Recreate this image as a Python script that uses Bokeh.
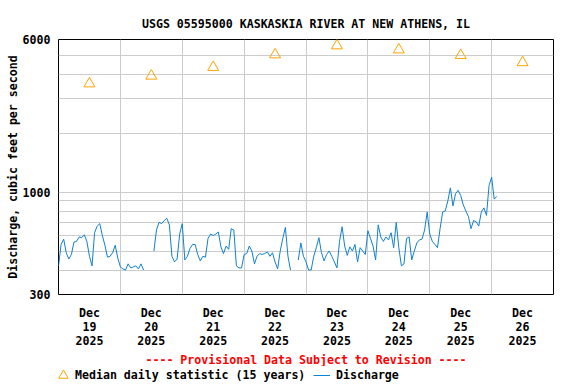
import numpy as np
import pandas as pd
from bokeh.plotting import figure
from bokeh.layouts import column
from bokeh.models import Range1d, FixedTicker, Legend, LegendItem, Title
from bokeh.embed import file_html
from bokeh.resources import INLINE

title_text = "USGS 05595000 KASKASKIA RIVER AT NEW ATHENS, IL"
y_axis_title = "Discharge, cubic feet per second"
provisional_text = "---- Provisional Data Subject to Revision ----"
median_label = "Median daily statistic (15 years)"
discharge_label = "Discharge"

series_start = "2025-12-19 00:00"
nan = float("nan")
# hourly discharge, cfs
discharge_cfs = [
    420, 540, 575, 490, 455, 480, 555, 560, 590, 585, 605, 560,
    470, 420, 620, 670, 690, 600, 535, 465, 470, 490, 535, 460,
    415, 405, 400, 430, 410, 415, 420, 405, 430, 400, nan, nan,
    nan, 500, 640, 700, 690, 715, 735, 680, 470, 440, 455, 610,
    690, 450, 470, 515, 540, 540, 480, 445, 470, 465, 580, 610,
    600, 610, 625, 525, 485, 530, 510, 650, 640, 420, 410, 410,
    480, 485, 530, 500, 430, 470, 485, 480, 485, 495, 470, 490,
    440, 405, 500, 580, 660, 470, 400, nan, nan, 450, 550, 470,
    440, 400, 400, 470, 520, 585, 490, 445, 480, 500, 470, 440,
    410, 560, 665, 530, 475, 525, 500, 540, 440, 520, 500, 480,
    635, 580, 530, 450, 680, 590, 560, 590, 570, 620, 520, 700,
    520, 420, 430, 580, 590, 450, 500, 550, 570, 575, 640, 790,
    610, 560, 540, 520, 650, 790, 800, 900, 1050, 850, 980, 1020,
    960, 860, 800, 750, 650, 715, 705, 670, 790, 830, 760, 1080,
    1190, 920, 950,
]

median_dates = ["2025-12-19", "2025-12-20", "2025-12-21", "2025-12-22",
                "2025-12-23", "2025-12-24", "2025-12-25", "2025-12-26"]
median_cfs = [3570, 3910, 4330, 5020, 5580, 5320, 4980, 4580]

day_labels = ["Dec\n19\n2025", "Dec\n20\n2025", "Dec\n21\n2025", "Dec\n22\n2025",
              "Dec\n23\n2025", "Dec\n24\n2025", "Dec\n25\n2025", "Dec\n26\n2025"]
y_tick_values = [300, 1000, 6000]
y_tick_labels = ["300", "1000", "6000"]
y_grid_values = [400, 500, 600, 700, 800, 900, 1000, 2000, 3000, 4000, 5000]

FONT = "DejaVu Sans Mono"
FS = "11.6px"
LINE_COLOR = "#1080d0"
TRI_COLOR = "#ffa500"

times = pd.date_range(series_start, periods=len(discharge_cfs), freq="h")
median_times = pd.to_datetime(median_dates) + pd.Timedelta(hours=12)

def ms(t):
    return int(pd.Timestamp(t).value // 10**6)

x_start = pd.Timestamp(median_dates[0])
x_end = pd.Timestamp(median_dates[-1]) + pd.Timedelta(days=1)

p = figure(width=576, height=366, x_axis_type="datetime", y_axis_type="log",
           x_range=Range1d(x_start, x_end), y_range=Range1d(300, 6000),
           output_backend="svg", toolbar_location=None,
           min_border_left=58, min_border_right=23, min_border_top=39, min_border_bottom=66)

p.title.text = title_text
p.title.align = "center"
p.title.text_color = "black"
p.title.text_font = FONT
p.title.text_font_style = "bold"
p.title.text_font_size = FS
p.title.standoff = 18

p.outline_line_color = "black"
p.outline_line_width = 1
p.background_fill_color = "white"
p.border_fill_color = "white"

# x axis: labels at noon, grid at midnight
noon_ticks = [ms(t) for t in median_times]
p.xaxis.ticker = FixedTicker(ticks=noon_ticks)
p.xaxis.major_label_overrides = {k: lab for k, lab in zip(noon_ticks, day_labels)}
p.xaxis.major_tick_line_color = None
p.xaxis.minor_tick_line_color = None
p.xaxis.major_tick_out = 0
p.xaxis.major_tick_in = 0
p.xaxis.axis_line_color = None
p.xaxis.major_label_standoff = 11
p.xaxis.major_label_text_font = FONT
p.xaxis.major_label_text_font_style = "bold"
p.xaxis.major_label_text_font_size = FS
p.xaxis.major_label_text_color = "black"
p.xaxis.major_label_text_line_height = 1.0
p.xgrid.ticker = FixedTicker(ticks=[ms(pd.Timestamp(d)) for d in median_dates[1:]])
p.xgrid.grid_line_color = "#cccccc"

p.yaxis.ticker = FixedTicker(ticks=y_tick_values)
p.yaxis.major_label_overrides = {v: s for v, s in zip(y_tick_values, y_tick_labels)}
p.yaxis.major_tick_line_color = None
p.yaxis.minor_tick_line_color = None
p.yaxis.major_tick_out = 0
p.yaxis.major_tick_in = 0
p.yaxis.axis_line_color = None
p.yaxis.major_label_standoff = 8
p.yaxis.major_label_text_font = FONT
p.yaxis.major_label_text_font_style = "bold"
p.yaxis.major_label_text_font_size = FS
p.yaxis.major_label_text_color = "black"
p.yaxis.axis_label = y_axis_title
p.yaxis.axis_label_text_color = "black"
p.yaxis.axis_label_text_font = FONT
p.yaxis.axis_label_text_font_style = "bold"
p.yaxis.axis_label_text_font_size = FS
p.yaxis.axis_label_standoff = 0
p.ygrid.ticker = FixedTicker(ticks=y_grid_values)
p.ygrid.grid_line_color = "#cccccc"

p.line(times, discharge_cfs, line_color=LINE_COLOR, line_width=1)
p.scatter(median_times, median_cfs, marker="triangle", size=11,
          fill_color=None, line_color=TRI_COLOR, line_width=1)

p.add_layout(Title(text=provisional_text, align="center", text_color="red",
                   text_font=FONT, text_font_style="bold", text_font_size=FS,
                   standoff=0, offset=0), "below")

# legend strip below the chart (its renderers hold the same series, kept off-view)
lg = figure(width=576, height=18, output_backend="svg", toolbar_location=None,
            x_axis_location=None, y_axis_location=None,
            min_border_left=58, min_border_right=23, min_border_top=0, min_border_bottom=0,
            x_range=Range1d(x_start, x_end), y_range=Range1d(0, 1))
lg.outline_line_color = None
lg.grid.visible = False
lg_tri = lg.scatter(median_times, median_cfs, marker="triangle", size=11,
                    fill_color=None, line_color=TRI_COLOR, line_width=1)
lg_line = lg.line(times, discharge_cfs, line_color=LINE_COLOR, line_width=1)

leg_a = Legend(items=[LegendItem(label=median_label, renderers=[lg_tri])],
               location=(-7, -3), orientation="horizontal",
               glyph_width=24, glyph_height=24, label_height=24, label_standoff=0,
               padding=0, margin=0, spacing=0, border_line_color=None,
               background_fill_alpha=0, label_text_font=FONT, label_text_color="black",
               label_text_font_style="bold", label_text_font_size=FS)
leg_b = Legend(items=[LegendItem(label=discharge_label, renderers=[lg_line])],
               location=(255, 0), orientation="horizontal",
               glyph_width=17, glyph_height=18, label_height=18, label_standoff=6,
               padding=0, margin=0, spacing=0, border_line_color=None,
               background_fill_alpha=0, label_text_font=FONT, label_text_color="black",
               label_text_font_style="bold", label_text_font_size=FS)
lg.add_layout(leg_a)
lg.add_layout(leg_b)

layout = column(p, lg, spacing=0)
open("out.html", "w").write(file_html(layout, INLINE))
